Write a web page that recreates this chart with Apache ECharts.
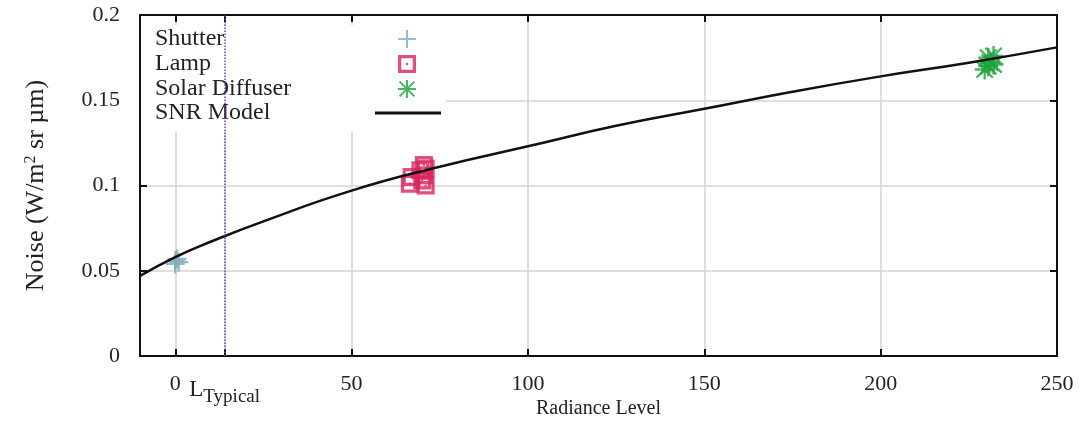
<!DOCTYPE html>
<html>
<head>
<meta charset="utf-8">
<script src="https://cdn.jsdelivr.net/npm/echarts@6/dist/echarts.min.js"></script>
<style>
  html, body { margin: 0; padding: 0; background: #fff; }
  #chart { width: 1079px; height: 430px; }
</style>
</head>
<body>
<div id="chart"></div>
<script>
// values
var shutterPts = [[0, 0.054], [0.5, 0.057], [1, 0.055], [0, 0.056]]
var lampPts = [[66.5, 0.101], [67, 0.105], [69.5, 0.109], [70.5, 0.112], [70.5, 0.106], [71, 0.100], [70, 0.103], [71, 0.110]]
var solarPts = [[229.5, 0.168], [230.5, 0.175], [231, 0.172], [232, 0.176], [230.5, 0.170], [232, 0.171]]
var modelX = [-10, 0, 10, 25, 50, 75, 100, 125, 150, 175, 200, 225, 250]
var modelY = [0.047, 0.058, 0.067, 0.079, 0.097, 0.111, 0.123, 0.135, 0.145, 0.155, 0.164, 0.172, 0.181]
var xTicks = [0, 50, 100, 150, 200, 250]
var lTypical = 14
var yTicks = [0, 0.05, 0.1, 0.15, 0.2]

var font = 'Liberation Serif'
var ink = '#222'
var plusIcon = 'path://M4.4,0h1.2v4.4h4.4v1.2h-4.4v4.4h-1.2v-4.4h-4.4v-1.2h4.4z'
var boxIcon = 'path://M0,0h10v10h-10z M1.8,1.8v6.4h6.4v-6.4z M4.4,4.4h1.2v1.2h-1.2z'
var starIcon = 'path://M4.4,0h1.2v10h-1.2z M0,4.4h10v1.2h-10z M1.3,0.5L9.5,8.7L8.7,9.5L0.5,1.3z M8.7,0.5L9.5,1.3L1.3,9.5L0.5,8.7z'

function legendText(w) {
  return {
    formatter: function (n) { return '{a|' + n + '}' },
    textStyle: {
      rich: { a: { fontFamily: font, fontSize: 24, color: ink, width: w, align: 'left', lineHeight: 24 } }
    }
  }
}

var chart = echarts.init(document.getElementById('chart'))

var lg0 = legendText(238)
var lg1 = legendText(215)

var option = {
  animation: false,
  grid: { left: 140, right: 22, top: 15, bottom: 74, containLabel: false, outerBoundsMode: 'none' },
  legend: [
    {
      orient: 'vertical', left: 141, top: 25, itemGap: 1,
      align: 'right', itemWidth: 18, itemHeight: 18,
      backgroundColor: '#fff', padding: [2, 29, 0, 14],
      data: ['Shutter', 'Lamp', 'Solar Diffuser'],
      formatter: lg0.formatter, textStyle: lg0.textStyle
    },
    {
      orient: 'vertical', left: 141, top: 97, itemGap: 0,
      align: 'right', itemWidth: 66, itemHeight: 3,
      backgroundColor: '#fff', padding: [4, 5, 6, 14],
      data: [{ name: 'SNR Model', icon: 'rect' }],
      formatter: lg1.formatter, textStyle: lg1.textStyle
    }
  ],
  xAxis: [
    {
      type: 'value', min: -10, max: 250,
      name: 'Radiance Level', nameLocation: 'middle', nameGap: 43, nameMoveOverlap: false,
      nameTextStyle: { fontFamily: font, fontSize: 20, color: ink },
      axisLine: { onZero: false, lineStyle: { color: '#111', width: 2 } },
      axisTick: { inside: true, length: 7, customValues: xTicks.concat([lTypical]), lineStyle: { color: '#111', width: 2 } },
      axisLabel: {
        customValues: xTicks.concat([lTypical]), margin: 17,
        fontFamily: font, fontSize: 22, color: ink,
        formatter: function (v) { return v === lTypical ? '{l|L}{s|Typical}' : String(v) },
        rich: {
          l: { fontFamily: font, fontSize: 23, color: ink },
          s: { fontFamily: font, fontSize: 19, color: ink, verticalAlign: 'bottom', padding: [15, 0, 0, 0] }
        }
      },
      splitLine: { show: true, lineStyle: { color: '#d4d4d4', width: 1.5 } }
    },
    {
      type: 'value', min: -10, max: 250, position: 'top',
      axisLine: { onZero: false, lineStyle: { color: '#111', width: 2 } },
      axisTick: { inside: true, length: 7, customValues: xTicks.concat([lTypical]), lineStyle: { color: '#111', width: 2 } },
      axisLabel: { show: false },
      splitLine: { show: false }
    }
  ],
  yAxis: [
    {
      type: 'value', min: 0, max: 0.2, interval: 0.05,
      name: 'Noise (W/m{sup|2} sr µm)', nameLocation: 'middle', nameGap: 90,
      nameTextStyle: {
        fontFamily: font, fontSize: 26, color: ink,
        rich: { sup: { fontFamily: font, fontSize: 16, color: ink, verticalAlign: 'top', padding: [0, 0, 11, 0] } }
      },
      axisLine: { onZero: false, lineStyle: { color: '#111', width: 2 } },
      axisTick: { inside: true, length: 7, lineStyle: { color: '#111', width: 2 } },
      axisLabel: {
        margin: 20, fontFamily: font, fontSize: 22, color: ink,
        formatter: function (v) { return yTicks.indexOf(v) >= 0 ? String(v) : '' }
      },
      splitLine: { show: true, lineStyle: { color: '#d4d4d4', width: 1.5 } }
    },
    {
      type: 'value', min: 0, max: 0.2, interval: 0.05, position: 'right',
      axisLine: { onZero: false, lineStyle: { color: '#111', width: 2 } },
      axisTick: { inside: true, length: 7, lineStyle: { color: '#111', width: 2 } },
      axisLabel: { show: false },
      splitLine: { show: false }
    }
  ],
  series: [
    {
      name: 'Shutter', type: 'scatter', data: shutterPts,
      symbol: plusIcon, symbolSize: 19,
      itemStyle: { color: '#7fabbb' }
    },
    {
      name: 'Lamp', type: 'scatter', data: lampPts,
      symbol: boxIcon, symbolSize: 18,
      itemStyle: { color: '#d9245c' }
    },
    {
      name: 'Solar Diffuser', type: 'scatter', data: solarPts,
      symbol: starIcon, symbolSize: 20,
      itemStyle: { color: '#1fa33c' }
    },
    {
      name: 'SNR Model', type: 'line', smooth: true, symbol: 'none', z: 3,
      data: modelX.map(function (x, i) { return [x, modelY[i]] }),
      lineStyle: { color: '#111', width: 2.5 },
      itemStyle: { color: '#111' },
      markLine: {
        silent: true, symbol: 'none', z: 6,
        label: { show: false },
        lineStyle: { color: '#7b3fa8', type: 'dotted', width: 1.5 },
        data: [{ xAxis: lTypical }]
      }
    }
  ]
}

chart.setOption(option)
window.addEventListener('resize', function () { chart.resize() })
</script>
</body>
</html>
